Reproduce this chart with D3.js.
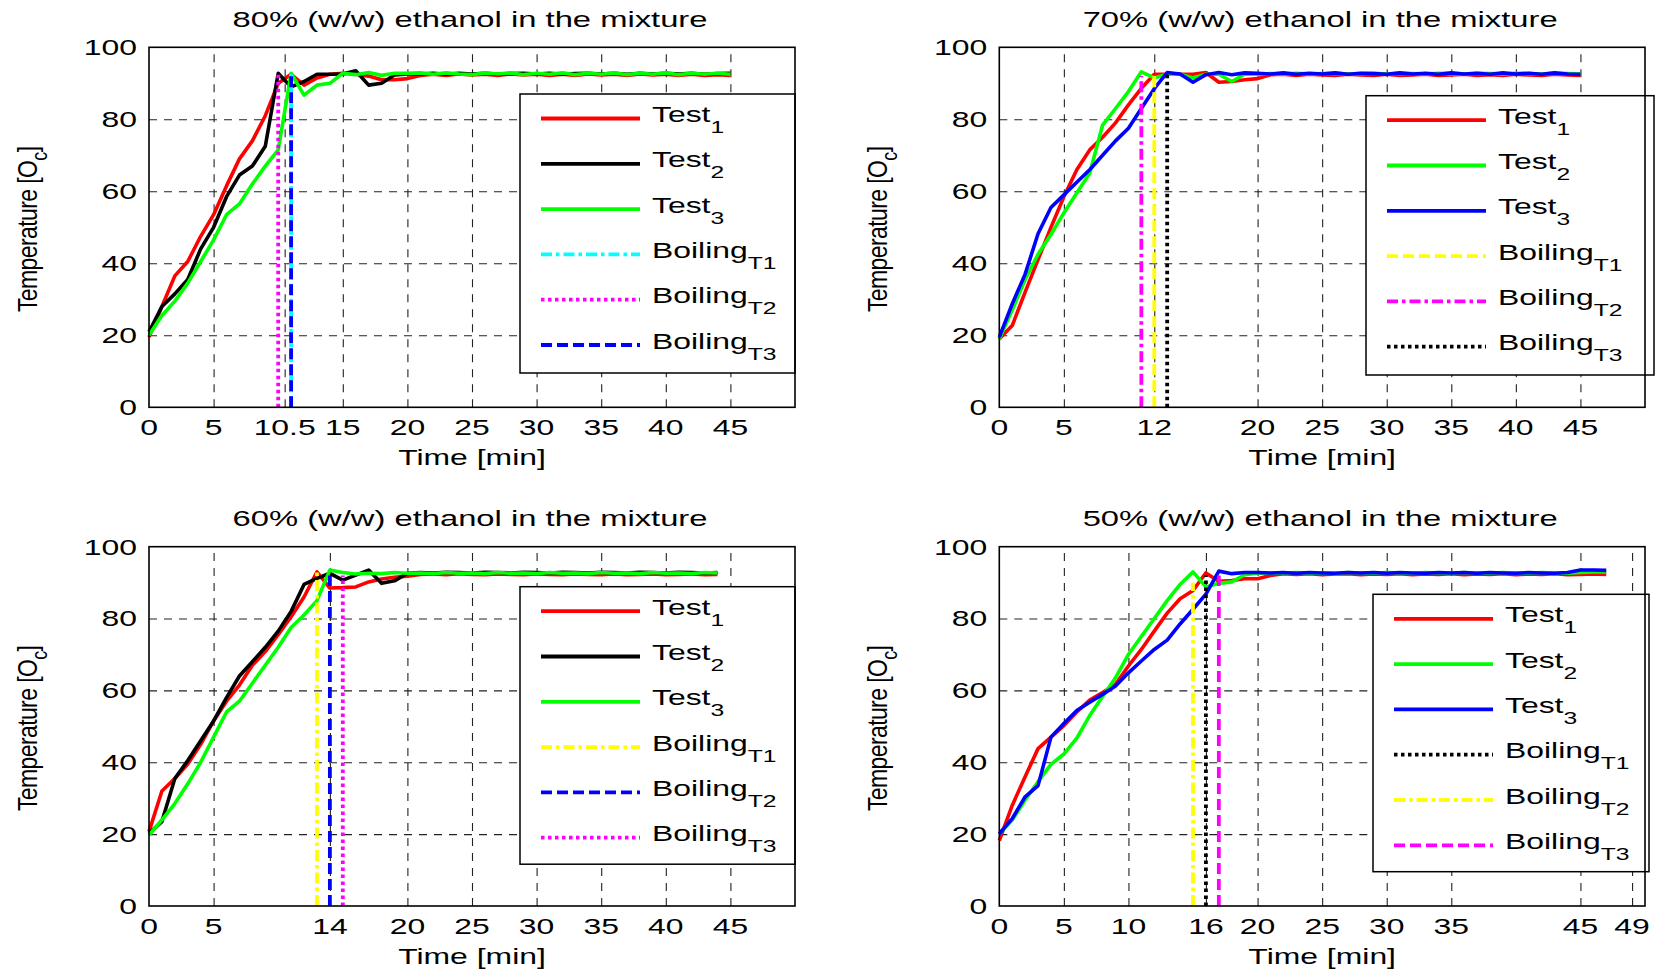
<!DOCTYPE html>
<html>
<head>
<meta charset="utf-8">
<script src="https://cdn.jsdelivr.net/npm/d3@7"></script>
<style>
  body { margin: 0; background: #fff; }
  svg { display: block; font-family: "Liberation Sans", Arial, sans-serif; }
</style>
</head>
<body>
<svg id="chart" width="1657" height="973"></svg>
<script>
// sample times (min)
const t0to44 = [0,1,2,3,4,5,6,7,8,9,10,11,12,13,14,15,16,17,18,19,20,21,22,23,24,25,26,27,28,29,30,31,32,33,34,35,36,37,38,39,40,41,42,43,44];
const t0to45 = [0,1,2,3,4,5,6,7,8,9,10,11,12,13,14,15,16,17,18,19,20,21,22,23,24,25,26,27,28,29,30,31,32,33,34,35,36,37,38,39,40,41,42,43,44,45];
const t0to47 = [0,1,2,3,4,5,6,7,8,9,10,11,12,13,14,15,16,17,18,19,20,21,22,23,24,25,26,27,28,29,30,31,32,33,34,35,36,37,38,39,40,41,42,43,44,45,46,47];

// 80% ethanol
const test1_80 = [19.5,28,36.5,40.5,47.5,53.5,61.5,69,74,81,90,92.5,89.5,91.5,92.5,92.8,92.5,92,91,91,91.3,92.2,92.5,92.2,92.6,92.3,92.5,92.2,92.6,92.3,92.5,92.2,92.5,92.2,92.6,92.3,92.5,92.2,92.6,92.3,92.5,92.2,92.5,92.2,92.4,92.2];
const test2_80 = [21,28,31.5,35.5,44,50,58.5,64.5,67,72.5,92.8,89,90.5,92.5,92.5,92.6,93.5,89.5,90,92.3,92.6,92.6,92.8,92.5,92.8,92.6,92.8,92.5,92.7,92.8,92.6,92.8,92.5,92.7,92.8,92.6,92.8,92.5,92.8,92.6,92.8,92.6,92.8,92.5,92.7,92.8];
const test3_80 = [20,25.5,29.5,34.5,40.5,46.5,53.5,56.5,62,67,71.5,92.8,86.7,89.5,90,92.8,92.4,93,92.2,92.8,92.8,92.9,92.5,92.9,92.6,92.4,92.9,92.6,92.9,92.4,92.8,92.5,92.9,92.4,92.8,92.5,92.9,92.4,92.8,92.5,92.9,92.4,92.8,92.5,92.8,92.5];
const boilAt80 = [11, 10, 11];
const boilTop80 = [92.5, 92.5, 92.5];
const ticks80 = [0,5,10.5,15,20,25,30,35,40,45];

// 70% ethanol
const test1_70 = [19,22.7,32,41,50,58.5,66,71.5,75,79,84,88.6,92.5,92.5,92.5,92.5,93,90.3,90.5,91,91.3,92.4,92.5,92.2,92.5,92.3,92.2,92.5,92.3,92.2,92.5,92.2,92.3,92.5,92.2,92.3,92.5,92.2,92.4,92.2,92.5,92.3,92.2,92.5,92.3,92.2];
const test2_70 = [19,27,35.5,42.5,48,54,59.5,65,78.4,83,87.7,93.2,91.5,92.5,92.5,91.5,92.5,92.5,90.5,92.5,92.5,92.7,92.6,92.8,92.6,92.7,92.8,92.6,92.7,92.8,92.6,92.8,92.7,92.6,92.8,92.7,92.6,92.8,92.7,92.6,92.8,92.7,92.6,92.8,92.7,92.6];
const test3_70 = [19.5,28.7,37,48.2,55.5,59,62.5,66,70,74,77.5,83,88.5,93,92.6,90.3,92.4,93,92.4,92.9,92.8,92.6,92.9,92.5,92.8,92.6,92.9,92.5,92.8,92.7,92.5,92.9,92.6,92.8,92.5,92.9,92.6,92.8,92.5,92.9,92.6,92.8,92.5,92.9,92.6,92.5];
const boilAt70 = [12, 11, 13];
const boilTop70 = [92, 92, 92.5];
const ticks70 = [0,5,12,20,25,30,35,40,45];

// 60% ethanol
const test1_60 = [20.7,32,35.5,39.5,45,51.5,57,61.5,67,70.8,75.5,80.5,86,93,88.5,88.6,88.8,90.2,91,91.5,91.8,92.3,92.4,92.2,92.5,92.3,92.2,92.4,92.3,92.2,92.4,92.3,92.2,92.4,92.3,92.2,92.4,92.2,92.3,92.4,92.2,92.3,92.4,92.2,92.3];
const test2_60 = [20.2,23.5,35.5,40.5,46,51.5,58,64,68,72,76.5,82,89.5,91.2,92.6,90.7,92.1,93.5,89.8,90.5,92.6,92.8,92.7,92.9,92.8,92.7,92.9,92.8,92.7,92.9,92.8,92.7,92.9,92.8,92.7,92.9,92.8,92.7,92.9,92.8,92.7,92.9,92.8,92.7,92.8];
const test3_60 = [19.7,24,28.5,34,40,47,54,57,62,67,72,77.5,81,85,93.5,92.8,92.4,92.6,92.5,92.8,92.6,92.7,92.5,92.8,92.6,92.7,92.5,92.8,92.6,92.7,92.5,92.8,92.6,92.7,92.5,92.8,92.6,92.7,92.5,92.8,92.6,92.7,92.5,92.8,92.7];
const boilAt60 = [13, 14, 15];
const boilTop60 = [93, 92, 92];
const ticks60 = [0,5,14,20,25,30,35,40,45];

// 50% ethanol
const test1_50 = [18.2,28,36,43.8,47,50.2,54,57.3,59.4,61.7,66.8,71.4,76.5,81.5,85.5,87.8,92.7,90.4,90.6,91.1,91.1,92,92.5,92.3,92.5,92.2,92.4,92.5,92.2,92.4,92.3,92.5,92.2,92.4,92.3,92.5,92.2,92.4,92.3,92.5,92.2,92.4,92.3,92.5,92.2,92.3,92.4,92.3];
const test2_50 = [20.1,23.9,29.5,34.6,39.4,42.3,46.7,53,58.3,63.5,70,75,80,85,89.5,93,88.8,89.8,90.2,92.2,92.6,92.7,92.6,92.8,92.6,92.7,92.6,92.8,92.7,92.6,92.8,92.7,92.6,92.8,92.7,92.6,92.8,92.7,92.6,92.8,92.7,92.6,92.8,92.7,92.6,92.8,93,93];
const test3_50 = [20.1,24.3,30.4,33.5,47,50.8,54.4,56.7,58.9,61.2,64.9,68.2,71.4,74,78.5,82.6,86.8,93.2,92.5,92.8,92.8,92.7,92.8,92.6,92.8,92.7,92.6,92.8,92.7,92.8,92.6,92.8,92.7,92.6,92.8,92.7,92.8,92.6,92.8,92.7,92.6,92.8,92.7,92.6,92.8,93.5,93.5,93.4];
const boilAt50 = [16, 15, 17];
const boilTop50 = [92, 90, 92];
const ticks50 = [0,5,10,16,20,25,30,35,45,49];

const yTicks = [0,20,40,60,80,100];

const DASH = '11,5', DOT = '3.5,3.5', DASHDOT = '11,4,3.5,4';
const SX = 1.45; // the source figure is stretched sideways

const panels = [
  { title: '80% (w/w) ethanol in the mixture', left: 149, right: 795, top: 47.3, bottom: 407.3,
    time: t0to45, tests: [test1_80, test2_80, test3_80], testColors: ['#ff0000', '#000000', '#00ff00'],
    boilAt: boilAt80, boilTop: boilTop80, boilColors: ['#00ffff', '#ff00ff', '#0000ff'], boilDash: [DASHDOT, DOT, DASH],
    ticks: ticks80, legend: { x: 520, y: 94, w: 275, h: 279 } },
  { title: '70% (w/w) ethanol in the mixture', left: 999.3, right: 1645, top: 47.3, bottom: 407.3,
    time: t0to45, tests: [test1_70, test2_70, test3_70], testColors: ['#ff0000', '#00ff00', '#0000ff'],
    boilAt: boilAt70, boilTop: boilTop70, boilColors: ['#ffff00', '#ff00ff', '#000000'], boilDash: [DASH, DASHDOT, DOT],
    ticks: ticks70, legend: { x: 1366, y: 95.7, w: 288, h: 279.3 } },
  { title: '60% (w/w) ethanol in the mixture', left: 149, right: 795, top: 546.7, bottom: 906,
    time: t0to44, tests: [test1_60, test2_60, test3_60], testColors: ['#ff0000', '#000000', '#00ff00'],
    boilAt: boilAt60, boilTop: boilTop60, boilColors: ['#ffff00', '#0000ff', '#ff00ff'], boilDash: [DASHDOT, DASH, DOT],
    ticks: ticks60, legend: { x: 520, y: 586.7, w: 275, h: 277.5 } },
  { title: '50% (w/w) ethanol in the mixture', left: 999.3, right: 1645, top: 546.7, bottom: 906,
    time: t0to47, tests: [test1_50, test2_50, test3_50], testColors: ['#ff0000', '#00ff00', '#0000ff'],
    boilAt: boilAt50, boilTop: boilTop50, boilColors: ['#000000', '#ffff00', '#ff00ff'], boilDash: [DOT, DASHDOT, DASH],
    ticks: ticks50, legend: { x: 1373, y: 594.3, w: 276, h: 277.4 } }
];

const svg = d3.select('#chart');

// text squeezed into a scaled group so glyphs come out as wide as in the source
function stretchedText(parent, x, y, anchor, parts, size) {
  const t = parent.append('g')
    .attr('transform', `translate(${x},${y}) scale(${SX},1)`)
    .append('text')
    .attr('text-anchor', anchor)
    .attr('font-size', size)
    .attr('fill', '#000');
  parts.forEach(p => {
    const ts = t.append('tspan').text(p.t);
    if (p.sub) ts.attr('dy', 11).attr('font-size', 17);
  });
  return t;
}

function drawPanel(p) {
  const x = d3.scaleLinear().domain([0, 50]).range([p.left, p.right]);
  const y = d3.scaleLinear().domain([0, 100]).range([p.bottom, p.top]);
  const g = svg.append('g');

  // grid
  g.append('g')
    .attr('transform', `translate(0,${p.bottom})`)
    .call(d3.axisBottom(x).tickValues(p.ticks.filter(d => d > 0)).tickSize(-(p.bottom - p.top)).tickFormat(''))
    .call(a => a.select('.domain').remove())
    .selectAll('line').attr('stroke', '#222').attr('stroke-width', 1.1).attr('stroke-dasharray', '8,7');
  g.append('g')
    .attr('transform', `translate(${p.left},0)`)
    .call(d3.axisLeft(y).tickValues([20, 40, 60, 80]).tickSize(-(p.right - p.left)).tickFormat(''))
    .call(a => a.select('.domain').remove())
    .selectAll('line').attr('stroke', '#222').attr('stroke-width', 1.1).attr('stroke-dasharray', '8,7');

  // test curves
  const line = d3.line().x(d => x(d[0])).y(d => y(d[1]));
  p.tests.forEach((vals, i) => {
    const pts = vals.map((v, k) => [p.time[k], v]);
    g.append('path')
      .attr('d', line(pts))
      .attr('fill', 'none')
      .attr('stroke', p.testColors[i])
      .attr('stroke-width', 3.6)
      .attr('stroke-linejoin', 'round');
  });

  // boiling points
  p.boilAt.forEach((t, i) => {
    g.append('line')
      .attr('x1', x(t)).attr('x2', x(t))
      .attr('y1', y(0)).attr('y2', y(p.boilTop[i]))
      .attr('stroke', p.boilColors[i])
      .attr('stroke-width', 3.8)
      .attr('stroke-dasharray', p.boilDash[i]);
  });

  // legend
  const L = p.legend;
  const lg = g.append('g');
  lg.append('rect')
    .attr('x', L.x).attr('y', L.y).attr('width', L.w).attr('height', L.h)
    .attr('fill', '#fff').attr('stroke', '#000').attr('stroke-width', 1.5);
  const labels = [
    [{t: 'Test'}, {t: '1', sub: true}],
    [{t: 'Test'}, {t: '2', sub: true}],
    [{t: 'Test'}, {t: '3', sub: true}],
    [{t: 'Boiling'}, {t: 'T1', sub: true}],
    [{t: 'Boiling'}, {t: 'T2', sub: true}],
    [{t: 'Boiling'}, {t: 'T3', sub: true}]
  ];
  const colors = p.testColors.concat(p.boilColors);
  const dashes = [null, null, null].concat(p.boilDash);
  labels.forEach((lab, i) => {
    const ly = L.y + 24.5 + i * 45.3;
    lg.append('line')
      .attr('x1', L.x + 21).attr('x2', L.x + 120)
      .attr('y1', ly).attr('y2', ly)
      .attr('stroke', colors[i]).attr('stroke-width', 3.8)
      .attr('stroke-dasharray', dashes[i]);
    stretchedText(lg, L.x + 132, ly + 3.5, 'start', lab, 22);
  });

  // axes box
  g.append('rect')
    .attr('x', p.left).attr('y', p.top)
    .attr('width', p.right - p.left).attr('height', p.bottom - p.top)
    .attr('fill', 'none').attr('stroke', '#000').attr('stroke-width', 1.6);

  // tick labels
  p.ticks.forEach(t => stretchedText(g, x(t), p.bottom + 28, 'middle', [{t: String(t)}], 22));
  yTicks.forEach(v => stretchedText(g, p.left - 12, y(v) + 7.9, 'end', [{t: String(v)}], 22));

  // titles
  const cx = (p.left + p.right) / 2;
  stretchedText(g, cx - 2, p.top - 20.5, 'middle', [{t: p.title}], 22.6);
  stretchedText(g, cx, p.bottom + 58, 'middle', [{t: 'Time [min]'}], 22);

  const yl = g.append('g')
    .attr('transform', `translate(${p.left - 112},${(p.top + p.bottom) / 2 + 2}) scale(1.2,1) rotate(-90)`)
    .append('text')
    .attr('text-anchor', 'middle')
    .attr('font-size', 23)
    .attr('letter-spacing', -0.6);
  yl.append('tspan').text('Temperature [O');
  yl.append('tspan').attr('dy', 8).attr('font-size', 18).text('c');
  yl.append('tspan').attr('dy', -8).text(']');
}

panels.forEach(drawPanel);
</script>
</body>
</html>
